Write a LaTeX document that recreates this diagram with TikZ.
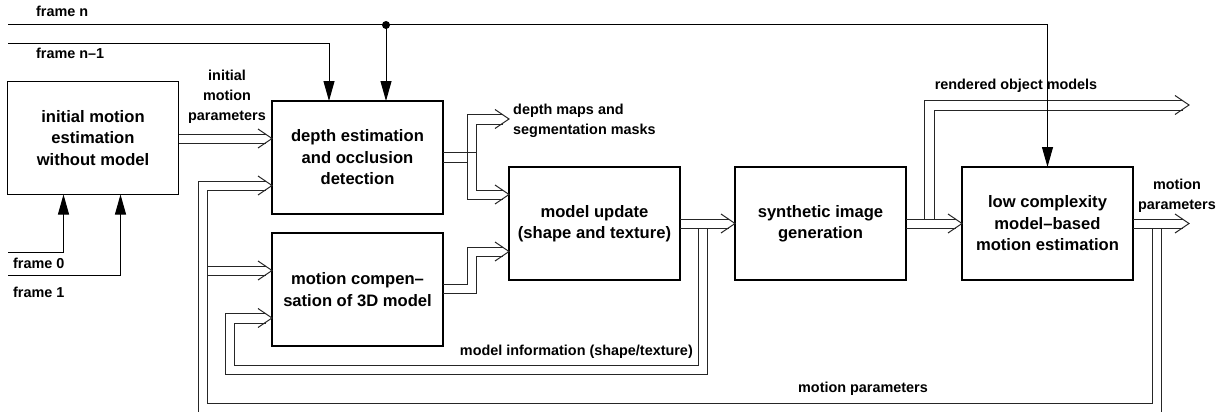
\documentclass[tikz,border=0pt]{standalone}
\usepackage{fontspec}
\setmainfont{Liberation Sans}
\usetikzlibrary{arrows.meta,calc}
\begin{document}
\begin{tikzpicture}[x=1pt,y=-1pt,
  box/.style={draw,line width=1.8pt,minimum width=171pt,minimum height=113pt,inner sep=0pt,outer sep=0pt,align=center,font=\fontsize{16.6}{21.5}\selectfont\bfseries},
  lbl/.style={inner sep=0pt,align=center,font=\fontsize{14.4}{20}\selectfont\bfseries},
  wire/.style={line width=1pt,draw=black!85},
  sig/.style={line width=1pt,draw=black,-{Triangle[length=20pt,width=11pt]}},
  chevron/.pic={\draw[line width=1pt,draw=black!85,line join=miter] (-14,-9.5) -- (0,0) -- (-14,9.5);}
]
\useasboundingbox (0,0) rectangle (1231,412);

% boxes
\node[box] (b1) at (93,138) {initial motion\\estimation\\without model};
\node[box] (b2) at (357.5,157.5) {depth estimation\\and occlusion\\detection};
\node[box] (b3) at (357.5,289.5) {motion compen--\\sation of 3D model};
\node[box] (b4) at (594.5,223.5) {model update\\(shape and texture)};
\node[box] (b5) at (820.5,223.5) {synthetic image\\generation};
\node[box] (b6) at (1047.5,223.5) {low complexity\\model--based\\motion estimation};

% labels
\node[lbl,anchor=west] (lfn) at (36,11) {frame n};
\node[lbl,anchor=west] (lfn1) at (36,53) {frame n--1};
\node[lbl,anchor=west] (lf0) at (13,263) {frame 0};
\node[lbl,anchor=west] (lf1) at (13,292) {frame 1};
\node[lbl] (limp) at (227,97) {initial\\motion\\parameters};
\node[lbl,anchor=west,align=left] (ldm) at (513,120.5) {depth maps and\\segmentation masks};
\node[lbl] (lrom) at (1016,86) {rendered object models};
\node[lbl] (lmp) at (1177,196) {motion\\parameters};
\node[lbl,anchor=east] (lmi) at (693,352) {model information (shape/texture)};
\node[lbl] (lmp2) at (863,389) {motion parameters};

% coordinates
\coordinate (fn) at (8,25);
\coordinate (fn1) at (8,44);
\coordinate (f0) at (8,252);
\coordinate (f1) at (8,275);
\coordinate (dot) at (386,25);

% initial motion parameters
\draw[wire] ($(b1.east)+(0,-4)$) -- (265.5,134);
\draw[wire] ($(b1.east)+(0,5)$) -- (265.5,143);
\pic at (272,138.5) {chevron};

% feedback of motion parameters (outer and inner)
\draw[wire] (198,412) -- (198,181) -- (265.5,181);
\draw[wire] (1152,228) -- (1152,403) -- (207,403) -- (207,190) -- (265.5,190);
\draw[wire] (1161,228) -- (1161,412);
\pic at (272,185.5) {chevron};
\draw[wire] (207,266) -- (265.5,266);
\draw[wire] (207,275) -- (265.5,275);
\pic at (272,270.5) {chevron};

% motion parameters output
\draw[wire] ($(b6.east)+(0,-4.5)$) -- (1182.5,219);
\draw[wire] ($(b6.east)+(0,4.5)$) -- (1182.5,228);
\pic at (1189,223.5) {chevron};

% model update output and model information loop
\draw[wire] ($(b4.east)+(0,-4.5)$) -- (728.5,219);
\draw[wire] ($(b4.east)+(0,4.5)$) -- (728.5,228);
\pic at (b5.west) {chevron};
\draw[wire] (698,228) -- (698,365) -- (234,365) -- (234,323) -- (265.5,323);
\draw[wire] (707,228) -- (707,374) -- (225,374) -- (225,313) -- (265.5,313);
\pic at (272,318) {chevron};

% depth estimation output
\draw[wire] (443,152) -- (476,152);
\draw[wire] (443,162) -- (467,162);
\draw[wire] (502.5,114) -- (467,114) -- (467,199) -- (502.5,199);
\draw[wire] (502.5,124) -- (476,124) -- (476,190) -- (502.5,190);
\pic at (509,119) {chevron};
\pic at (509,194.5) {chevron};

% motion compensation output
\draw[wire] (443,284) -- (467,284) -- (467,247) -- (502.5,247);
\draw[wire] (443,293) -- (476,293) -- (476,256) -- (502.5,256);
\pic at (509,251.5) {chevron};

% synthetic image output
\draw[wire] ($(b5.east)+(0,-4.5)$) -- (955.5,219);
\draw[wire] ($(b5.east)+(0,4.5)$) -- (955.5,228);
\pic at (b6.west) {chevron};
\draw[wire] (924,219) -- (924,100) -- (1182.5,100);
\draw[wire] (934,219) -- (934,110) -- (1182.5,110);
\pic at (1189,105) {chevron};

% frames
\draw[sig] (fn) -| (b6.north);
\fill (dot) circle (4);
\draw[sig] (dot) -- (dot |- b2.north);
\draw[sig] (fn1) -| ($(b2.north west)+(57,0)$);
\draw[sig] (f0) -| ($(b1.south west)+(56,0)$);
\draw[sig] (f1) -| ($(b1.south west)+(113,0)$);
\end{tikzpicture}
\end{document}
